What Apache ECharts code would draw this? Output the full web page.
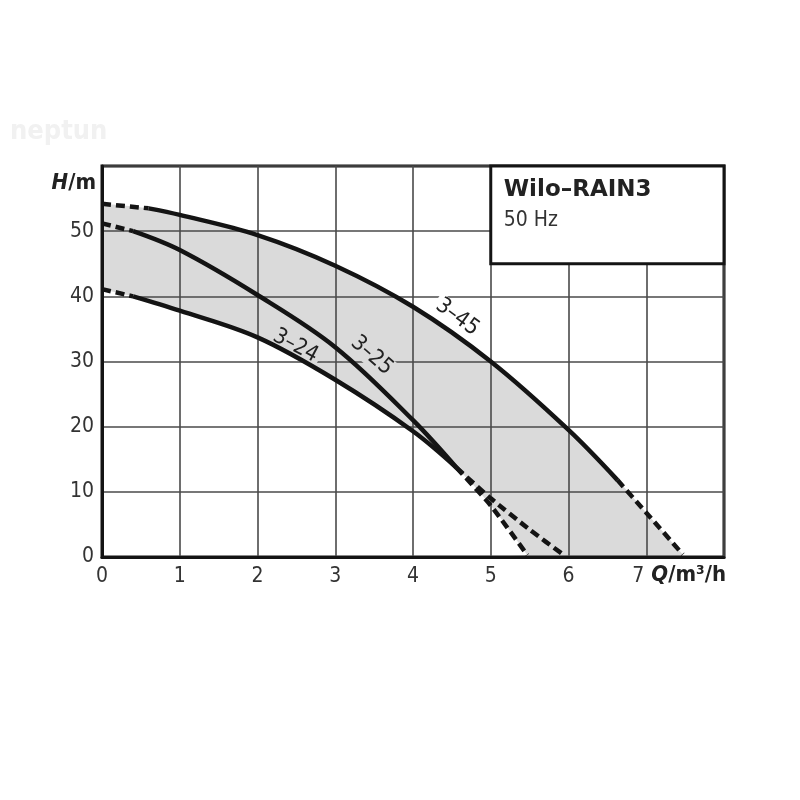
<!DOCTYPE html>
<html><head><meta charset="utf-8">
<script src="https://cdn.jsdelivr.net/npm/echarts@6/dist/echarts.min.js"></script>
<style>html,body{margin:0;padding:0;background:#fff}#c{width:800px;height:800px}</style>
</head><body><div id="c"></div>
<script>
const FONT = '"DejaVu Sans Condensed","DejaVu Sans",sans-serif';
const TFONT = '"DejaVu Sans",sans-serif';
const xMax = 8, yMax = 60;
const xTickLabels = [0,1,2,3,4,5,6,7];
const yTickLabels = [0,10,20,30,40,50];

// Curve 3-45
const c345DashStart = [[0,54.2],[0.6,53.5]];
const c345Solid = [[0.6,53.5],[1,52.5],[2,49.4],[3,44.7],[4,38.4],[5,30.0],[6,19.5],[6.63,11.8]];
const c345DashEnd = [[6.63,11.8],[7.0,6.8],[7.47,0.4]];
// Curve 3-25
const c325DashStart = [[0,51.2],[0.4,50.0]];
const c325Solid = [[0.4,50.0],[1,47.1],[2,40.2],[3,32.2],[4,21.0],[4.56,13.7]];
const c325DashEnd = [[4.56,13.7],[5,9.0],[5.5,4.2],[5.94,0.3]];
// Curve 3-24
const c324DashStart = [[0,41.1],[0.4,40.0]];
const c324Solid = [[0.4,40.0],[1,37.8],[2,33.7],[3,27.2],[4,19.3],[4.56,13.7]];
const c324DashEnd = [[4.56,13.7],[5,7.9],[5.47,0.3]];

const curveLabels = [
  {text:'3–45', at:[4.57,36.8], rot:-36, bg:'#ffffff'},
  {text:'3–24', at:[2.49,32.4], rot:-28, bg:'#dadada'},
  {text:'3–25', at:[3.47,30.9], rot:-41, bg:'#dadada'}
];
const titleText = 'Wilo–RAIN3';
const subText = '50 Hz';

function join(a,b,c){ return a.concat(b.slice(1), c.slice(1)); }
const full345 = join(c345DashStart, c345Solid, c345DashEnd);
const full324 = join(c324DashStart, c324Solid, c324DashEnd);

const INK = '#141414', GRID = '#4a4a4a', FILL = '#dadada';
const lw = 4.5, dash = [9,5];
const SM = 0.35;

function seg(data, dashed, smooth, extra){
  return Object.assign({
    type:'line', data:data, symbol:'none', smooth:smooth, z:5,
    lineStyle:{color:INK, width:lw, type: dashed ? dash : 'solid', cap:'butt'},
    animation:false, silent:true
  }, extra||{});
}
function mp(lbl){
  return {symbol:'rect', symbolSize:0, animation:false,
    data:[{coord:lbl.at, value:lbl.text}],
    label:{show:true, position:'inside', formatter:lbl.text, rotate:lbl.rot,
      fontFamily:FONT, fontSize:22, color:'#222', backgroundColor:lbl.bg, padding:[0,3]}};
}

const chart = echarts.init(document.getElementById('c'), null, {renderer:'canvas'});
const option = {
  animation:false,
  backgroundColor:'#fff',
  grid:{left:102, right:76, top:166, bottom:243, show:true, borderColor:INK, borderWidth:3, backgroundColor:'transparent', z:3},
  xAxis:{type:'value', min:0, max:xMax, interval:1, z:3,
    axisLine:{show:true, onZero:false, lineStyle:{color:INK, width:3}},
    axisTick:{show:false},
    splitLine:{show:true, lineStyle:{color:GRID, width:1.6}},
    axisLabel:{margin:9, fontFamily:FONT, fontSize:21, color:'#333',
      formatter:v => v === 7 ? '{s|7}' : (xTickLabels.indexOf(v) >= 0 ? String(v) : ''),
      rich:{s:{fontFamily:FONT, fontSize:21, color:'#333', padding:[0,16,0,0]}}}},
  yAxis:{type:'value', min:0, max:yMax, interval:10, z:3,
    axisLine:{show:true, onZero:false, lineStyle:{color:INK, width:3}},
    axisTick:{show:false},
    splitLine:{show:true, lineStyle:{color:GRID, width:1.6}},
    axisLabel:{margin:8, fontFamily:FONT, fontSize:21, color:'#333',
      formatter:v => yTickLabels.indexOf(v) >= 0 ? String(v) : ''}},
  series:[
    {type:'line', data:full345, symbol:'none', smooth:SM, z:1, lineStyle:{width:0}, areaStyle:{color:FILL, opacity:1}, silent:true},
    {type:'line', data:full324, symbol:'none', smooth:SM, z:2, lineStyle:{width:0}, areaStyle:{color:'#ffffff', opacity:1}, silent:true},
    seg(c345DashStart, true, false),
    seg(c345Solid, false, SM, {markPoint: mp(curveLabels[0])}),
    seg(c345DashEnd, true, 0.2),
    seg(c325DashStart, true, false),
    seg(c325Solid, false, SM, {markPoint: mp(curveLabels[2])}),
    seg(c325DashEnd, true, 0.2),
    seg(c324DashStart, true, false),
    seg(c324Solid, false, SM, {markPoint: mp(curveLabels[1])}),
    seg(c324DashEnd, true, 0.2)
  ]
};
chart.setOption(option);

const p0 = chart.convertToPixel({gridIndex:0}, [5, 60]);
const p1 = chart.convertToPixel({gridIndex:0}, [8, 45]);
const pTop = chart.convertToPixel({gridIndex:0}, [0, 60]);
const pEnd = chart.convertToPixel({gridIndex:0}, [8, 0]);
chart.setOption({graphic:[
  {type:'text', left:10, top:118, z:0, style:{text:'neptun', font:'bold 27px '+FONT, fill:'#f1f1f1'}},
  {type:'rect', z:10, shape:{x:p0[0], y:p0[1], width:p1[0]-p0[0], height:p1[1]-p0[1]},
    style:{fill:'#fff', stroke:INK, lineWidth:3}},
  {type:'text', z:11, x:p0[0]+13, y:p0[1]+13, style:{text:titleText, font:'bold 23px '+TFONT, fill:'#222'}},
  {type:'text', z:11, x:p0[0]+13, y:p0[1]+44, style:{text:subText, font:'21px '+FONT, fill:'#333'}},
  {type:'text', z:11, x:pTop[0]-6, y:pTop[1]+17, style:{text:'{i|H}/m', font:'bold 22px '+FONT, fill:'#222', align:'right', verticalAlign:'middle',
    rich:{i:{fontStyle:'italic', fontWeight:'bold', fontSize:22, fontFamily:FONT}}}},
  {type:'text', z:11, x:pEnd[0]+2, y:pEnd[1]+18, style:{text:'{i|Q}/m³/h', font:'bold 22px '+FONT, fill:'#222', align:'right', verticalAlign:'middle',
    rich:{i:{fontStyle:'italic', fontWeight:'bold', fontSize:22, fontFamily:FONT}}}}
]});
</script></body></html>
